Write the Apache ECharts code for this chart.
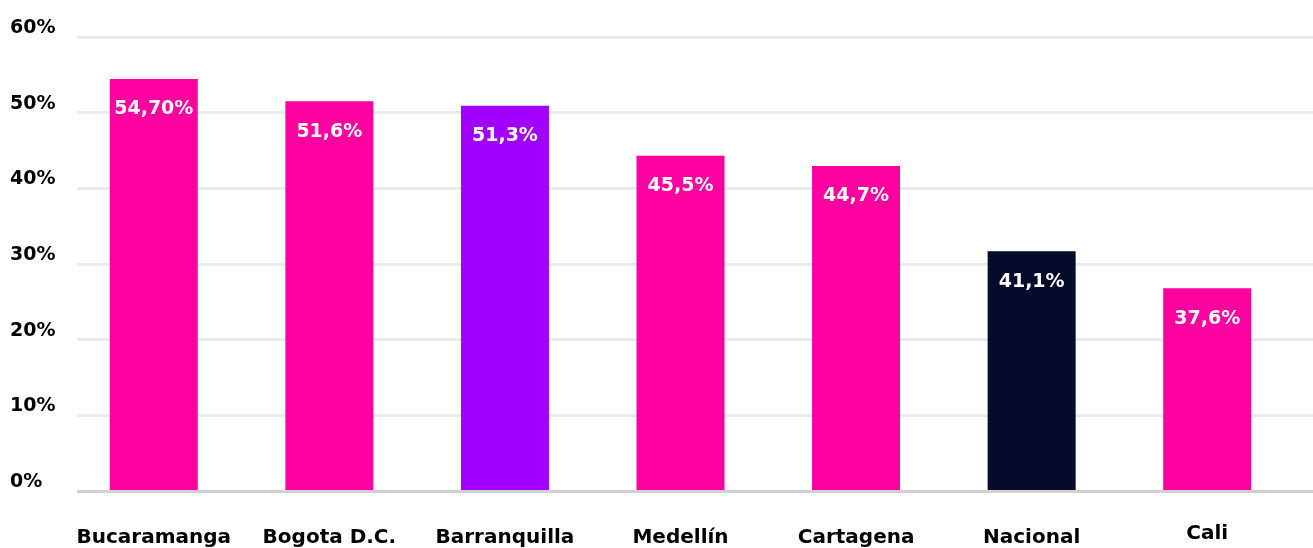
<!DOCTYPE html>
<html>
<head>
<meta charset="utf-8">
<script src="https://cdn.jsdelivr.net/npm/echarts@6/dist/echarts.min.js"></script>
<style>
  html, body { margin: 0; padding: 0; background: #fff; }
  #chart { width: 1313px; height: 548px; }
</style>
</head>
<body>
<div id="chart"></div>
<script>
const categories = ['Bucaramanga', 'Bogota D.C.', 'Barranquilla', 'Medellín', 'Cartagena', 'Nacional', 'Cali'];
const values = [54.45, 51.5, 50.9, 44.3, 42.95, 31.7, 26.8];
const valueLabels = ['54,70%', '51,6%', '51,3%', '45,5%', '44,7%', '41,1%', '37,6%'];
const barColors = ['#FF00A0', '#FF00A0', '#A100FF', '#FF00A0', '#FF00A0', '#070B2B', '#FF00A0'];
const yTicks = [0, 10, 20, 30, 40, 50, 60];

const chart = echarts.init(document.getElementById('chart'));
const font = '"DejaVu Sans", sans-serif';

const option = {
  animation: false,
  grid: [
    // grid for y axis + split lines
    { left: 77, right: 0, top: 37, bottom: 57, outerBoundsMode: 'none' },
    // grid for the bars
    { left: 66, right: 18, top: 37, bottom: 57, outerBoundsMode: 'none' }
  ],
  xAxis: [
    { gridIndex: 0, type: 'category', data: categories, show: false },
    {
      gridIndex: 1,
      type: 'category',
      // Cali sits a little higher in the original
      data: categories.map((c, i) => i === 6 ? { value: c, textStyle: { lineHeight: 20 } } : c),
      axisLine: { show: false },
      axisTick: { show: false },
      axisLabel: {
        color: '#000', fontSize: 20, fontWeight: 'bold', fontFamily: font,
        margin: 33, lineHeight: 28, interval: 0
      }
    }
  ],
  yAxis: [
    {
      gridIndex: 0,
      type: 'value',
      min: yTicks[0],
      max: yTicks[yTicks.length - 1],
      interval: 10,
      axisLine: { show: false },
      axisTick: { show: false },
      splitLine: { lineStyle: { color: '#EBEBEB', width: 3 } },
      axisLabel: {
        color: '#000', fontSize: 19, fontWeight: 'bold', fontFamily: font,
        formatter: v => v + '%', align: 'left', margin: 67,
        verticalAlign: 'bottom', lineHeight: 18
      }
    },
    { gridIndex: 1, type: 'value', min: 0, max: 60, show: false }
  ],
  series: [
    {
      // bottom axis line across the full width
      type: 'line',
      xAxisIndex: 0,
      yAxisIndex: 0,
      data: [],
      markLine: {
        silent: true, symbol: 'none', label: { show: false },
        lineStyle: { color: '#D0D0D0', width: 3, type: 'solid' },
        data: [{ yAxis: 0 }]
      }
    },
    {
      type: 'bar',
      xAxisIndex: 1,
      yAxisIndex: 1,
      barWidth: 88,
      z: 3,
      data: values.map((v, i) => ({ value: v, itemStyle: { color: barColors[i] } })),
      label: {
        show: true,
        position: 'insideTop',
        distance: 21,
        color: '#fff',
        fontSize: 19,
        fontWeight: 'bold',
        fontFamily: font,
        formatter: p => valueLabels[p.dataIndex]
      }
    }
  ]
};
chart.setOption(option);
</script>
</body>
</html>
